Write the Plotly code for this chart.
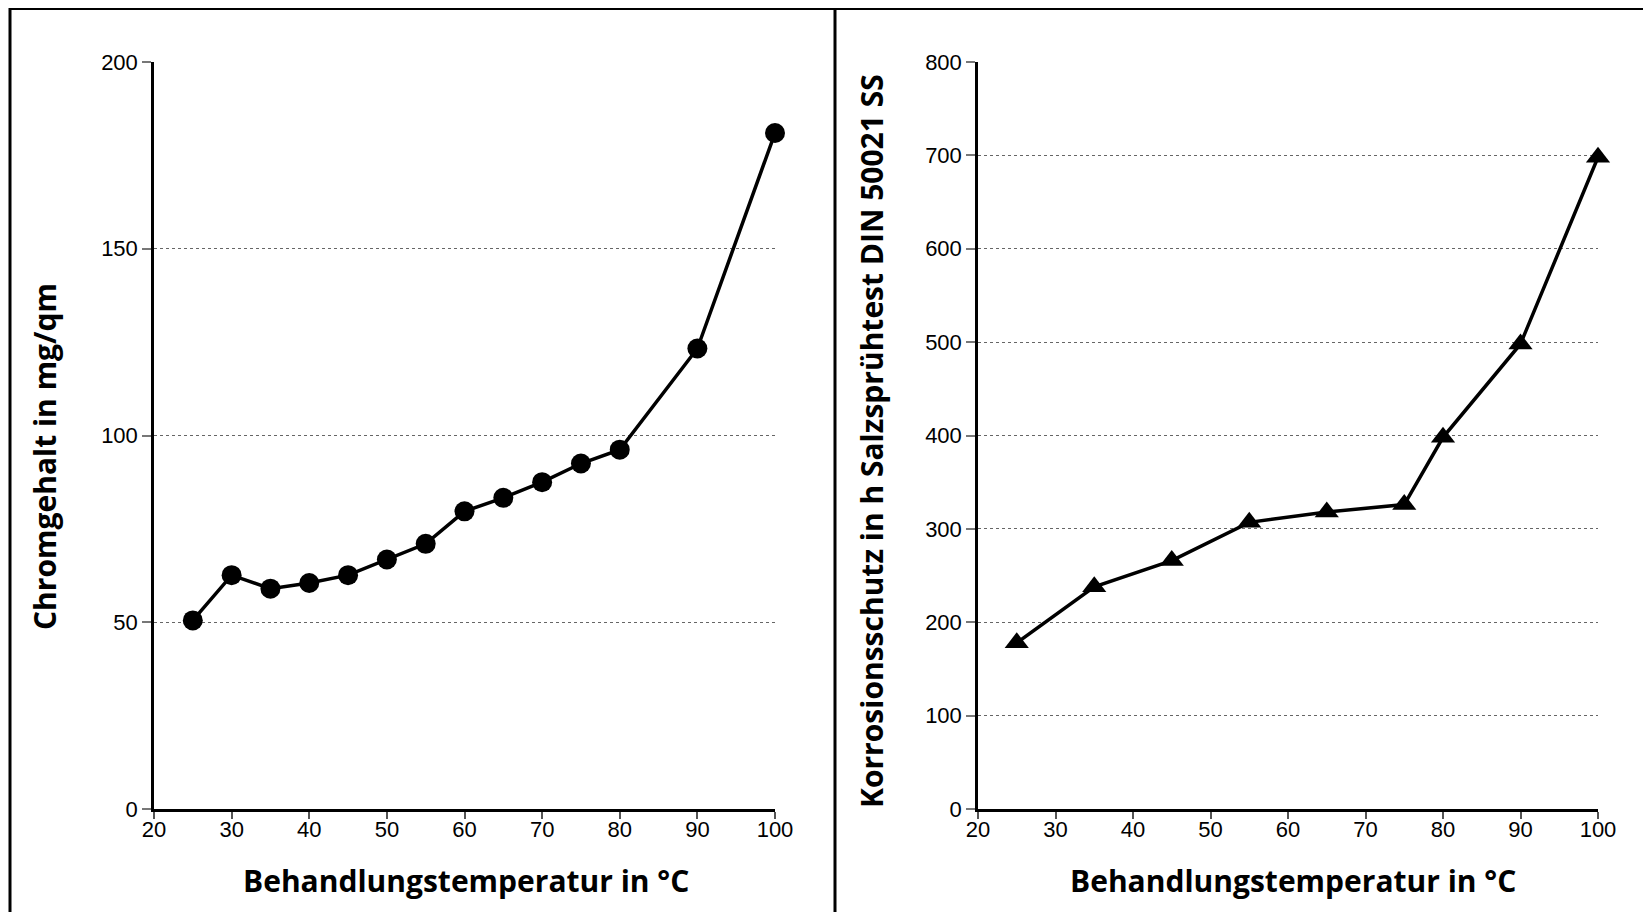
import plotly.graph_objects as go

# ---- data ----
temp_left = [25, 30, 35, 40, 45, 50, 55, 60, 65, 70, 75, 80, 90, 100]
chrom = [50.5, 62.6, 59.0, 60.5, 62.6, 66.8, 71.0, 79.7, 83.3, 87.5, 92.5, 96.2, 123.3, 181.0]

temp_right = [25, 35, 45, 55, 65, 75, 80, 90, 100]
korrosion = [178, 238, 266, 307, 318, 326, 398, 498, 698]

x_ticks = [20, 30, 40, 50, 60, 70, 80, 90, 100]
y_ticks_left = [0, 50, 100, 150, 200]
y_ticks_right = [0, 100, 200, 300, 400, 500, 600, 700, 800]

x_title = "Behandlungstemperatur in °C"
y_title_left = "Chromgehalt in mg/qm"
y_title_right = "Korrosionsschutz in h Salzsprühtest DIN 50021 SS"

W, H = 1651, 912
OFF = 8  # page body margin offset

def px(x):
    return (x - OFF) / W

def py(y):
    return 1 - (y - OFF) / H

fig = go.Figure()

fig.add_trace(go.Scatter(
    x=temp_left, y=chrom, mode="lines+markers",
    line=dict(color="black", width=3.5),
    marker=dict(symbol="circle", size=20, color="black"),
    cliponaxis=False, xaxis="x", yaxis="y", showlegend=False))

fig.add_trace(go.Scatter(
    x=temp_right, y=korrosion, mode="lines+markers",
    line=dict(color="black", width=3.5),
    marker=dict(symbol="triangle-up", size=21, color="black"),
    cliponaxis=False, xaxis="x2", yaxis="y2", showlegend=False))

tickfont = dict(family="Liberation Sans, Arial, sans-serif", size=22, color="black")
titlefont = dict(family="Open Sans, sans-serif", size=30, color="black", weight="bold")

ydom = [py(809), py(62)]

common_x = dict(range=[20, 100], tickvals=x_ticks, showgrid=False, zeroline=False,
                showline=True, linecolor="black", linewidth=3,
                ticks="outside", ticklen=7, tickwidth=1.5, tickcolor="#555",
                tickfont=tickfont, automargin=False, ticklabelstandoff=-8)
common_y = dict(showgrid=True, gridcolor="#666", gridwidth=1, griddash="dot",
                zeroline=False, showline=True, linecolor="black", linewidth=2.5,
                ticks="outside", ticklen=9, tickwidth=1.5, tickcolor="#777",
                tickfont=tickfont, domain=ydom, automargin=False)

fig.update_layout(
    width=W, height=H,
    margin=dict(l=0, r=0, t=0, b=0, pad=0, autoexpand=False),
    paper_bgcolor="white", plot_bgcolor="white",
    xaxis=dict(domain=[px(154), px(775)], anchor="y", **common_x),
    yaxis=dict(range=[0, 200], tickvals=y_ticks_left, anchor="x", **common_y),
    xaxis2=dict(domain=[px(978), px(1598)], anchor="y2", **common_x),
    yaxis2=dict(range=[0, 800], tickvals=y_ticks_right, anchor="x2", **common_y),
)

# axis titles as annotations
fig.add_annotation(text=x_title, x=px(466), y=py(880), xref="paper", yref="paper",
                   showarrow=False, font=titlefont, xanchor="center", yanchor="middle")
fig.add_annotation(text=x_title, x=px(1293), y=py(880), xref="paper", yref="paper",
                   showarrow=False, font=titlefont,
                   xanchor="center", yanchor="middle")
fig.add_annotation(text=y_title_left, x=px(44), y=py(457), xref="paper", yref="paper",
                   showarrow=False, font=titlefont, textangle=-90,
                   xanchor="center", yanchor="middle")
fig.add_annotation(text=y_title_right, x=px(872), y=py(441), xref="paper", yref="paper",
                   showarrow=False, font=titlefont, textangle=-90,
                   xanchor="center", yanchor="middle")

# panel frame
frame = dict(color="black", width=3)
fig.add_shape(type="line", xref="paper", yref="paper", x0=px(10), x1=1, y0=1, y1=1,
              line=dict(color="black", width=4))
fig.add_shape(type="line", xref="paper", yref="paper", x0=px(10), x1=px(10), y0=1, y1=0, line=frame)
fig.add_shape(type="line", xref="paper", yref="paper", x0=px(835), x1=px(835), y0=1, y1=0, line=frame)

fig.write_html("out.html")
